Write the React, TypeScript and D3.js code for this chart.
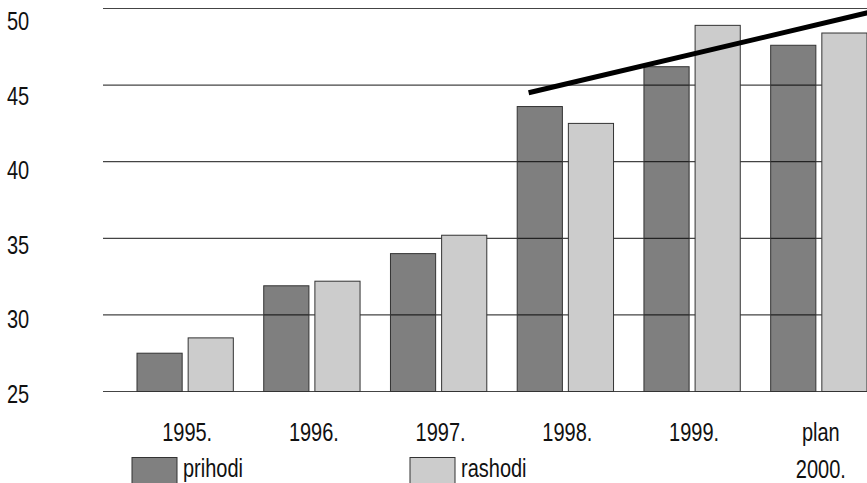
import React from "react";
import * as d3 from "d3";

const categories = ["1995.", "1996.", "1997.", "1998.", "1999.", "plan 2000."];
const prihodi = [27.5, 31.9, 34.0, 43.6, 46.2, 47.6];
const rashodi = [28.5, 32.2, 35.2, 42.5, 48.9, 48.4];
const yTicks = [25, 30, 35, 40, 45, 50];
// trend line, position given as category index (fractional)
const trend = [
  { pos: 2.71, value: 44.5 },
  { pos: 5.4, value: 49.75 },
];
const seriesNames = ["prihodi", "rashodi"];

const W = 867;
const H = 483;
const FONT = "'Liberation Sans', Arial, sans-serif";
const SX = 0.8; // squeeze to get the condensed look

// condensed text helper
function T({ x, y, children, anchor = "start" }: { x: number; y: number; children: React.ReactNode; anchor?: string }) {
  return (
    <g transform={`translate(${x},${y}) scale(${SX},1)`}>
      <text x={0} y={0} fontSize={25} textAnchor={anchor} fill="#111">
        {children}
      </text>
    </g>
  );
}

export default function App() {
  const y = d3.scaleLinear().domain([25, 50]).range([391.5, 8.5]);
  // the tick labels sit a bit below their lines and are spaced slightly tighter
  const yLab = d3.scaleLinear().domain([25, 50]).range([402.5, 30]);
  const x = d3.scaleBand<string>().domain(categories).range([137, 867]).paddingInner(0.24).paddingOuter(0);
  const inner = d3.scaleBand<string>().domain(seriesNames).range([0, x.bandwidth()]).paddingInner(0.117);
  const idx = d3
    .scaleLinear()
    .domain([0, categories.length - 1])
    .range([x(categories[0])! + x.bandwidth() / 2, x(categories[categories.length - 1])! + x.bandwidth() / 2]);
  const line = d3
    .line<{ pos: number; value: number }>()
    .x(d => idx(d.pos))
    .y(d => y(d.value));

  const bar = (cat: string, s: string, v: number, fill: string, op: number) => (
    <rect
      key={cat + s}
      x={x(cat)! + inner(s)!}
      y={y(v)}
      width={inner.bandwidth()}
      height={y(25) - y(v)}
      fill={fill}
      fillOpacity={op}
      stroke="#333"
      strokeWidth={1}
    />
  );

  return (
    <svg width={W} height={H} style={{ position: "absolute", left: 0, top: 0, display: "block" }} fontFamily={FONT}>
      <rect width={W} height={H} fill="#fff" />
      {yTicks.map(t => (
        <g key={t}>
          <line x1={103} x2={W} y1={y(t)} y2={y(t)} stroke="#444" strokeWidth={1.2} />
          <T x={7} y={yLab(t)}>{t}</T>
        </g>
      ))}
      {categories.map((c, i) => bar(c, "rashodi", rashodi[i], "#cccccc", 1))}
      {categories.map((c, i) => bar(c, "prihodi", prihodi[i], "#000", 0.5))}
      <path d={line(trend)!} fill="none" stroke="#000" strokeWidth={5} />
      {categories.map(c => {
        const parts = c.split(" ");
        const cx = x(c)! + x.bandwidth() / 2 + 2;
        return parts.map((p, j) => (
          <T key={c + p} x={cx} y={j === 0 ? 441 : 478} anchor="middle">
            {p}
          </T>
        ));
      })}
      {seriesNames.map((s, i) => {
        const lx = i === 0 ? 132 : 410;
        return (
          <g key={s}>
            <rect x={lx} y={457.5} width={45} height={28} fill={i === 0 ? "#808080" : "#cccccc"} stroke="#333" strokeWidth={1} />
            <T x={lx + 51} y={477}>{s}</T>
          </g>
        );
      })}
    </svg>
  );
}
